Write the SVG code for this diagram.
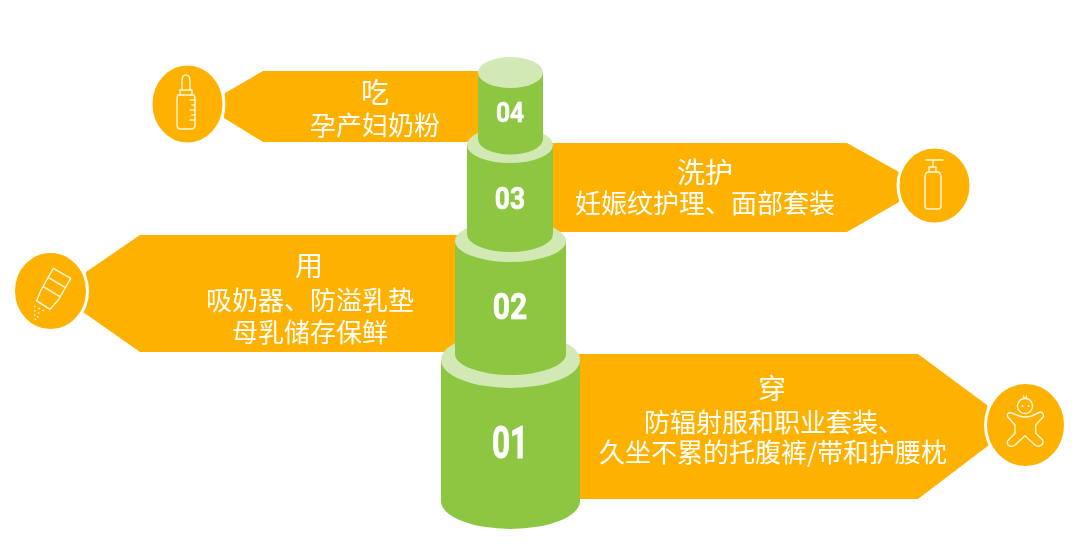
<svg xmlns="http://www.w3.org/2000/svg" width="1080" height="544" viewBox="0 0 1080 544">
<defs>
<style>
.banner{fill:#ffb100}
.dot{fill:#ffb100;stroke:#fff;stroke-width:3}
.body{fill:#8dc63f}
.lid{fill:#d2e9b6}
.icon{fill:none;stroke:#fff6dd;stroke-width:1.4;stroke-linejoin:round;stroke-linecap:round}
text{font-family:"Noto Sans CJK SC","Noto Sans",sans-serif;fill:#fff;text-anchor:middle}
.t{font-size:28px}
.s{font-size:26px}
.n{font-family:"Roboto","Liberation Sans",sans-serif;font-weight:700;font-size:30px;stroke:#fff;stroke-width:.6}
</style>
<filter id="soft" x="-5%" y="-5%" width="110%" height="110%"><feGaussianBlur stdDeviation="0.45"/></filter>
</defs>
<rect width="1080" height="544" fill="#fff"/>
<g filter="url(#soft)">
<g id="connectors">
<polygon class="banner" points="480,71 263,71 225,93 222,105 224,118 263,142 480,142"/>
<polygon class="banner" points="550,143 847,143 899,172 903,187 899,202 847,232 550,232"/>
<polygon class="banner" points="460,235 140,235 86,272 82,292 83,312 140,352 460,352"/>
<polygon class="banner" points="575,354 918,354 987,405 992,425 989,445 918,499 575,499"/>
</g>
<g id="cylinder-01">
<path class="body" d="M441 360V501A69.5 28 0 0 0 580 501V360Z"/>
<ellipse class="lid" cx="510.500" cy="360" rx="69.500" ry="28"/>
<text class="n" transform="translate(510 458) scale(1.05 1.45)">01</text>
</g>
<g id="cylinder-02">
<path class="body" d="M455 241V354A55.5 21 0 0 0 566 354V241Z"/>
<ellipse class="lid" cx="510.500" cy="241" rx="55.500" ry="21"/>
<text class="n" transform="translate(510 319) scale(1 1.22)">02</text>
</g>
<g id="cylinder-03">
<path class="body" d="M467 145V234A43 18 0 0 0 553 234V145Z"/>
<ellipse class="lid" cx="510" cy="145" rx="43" ry="18"/>
<text class="n" transform="translate(510 209) scale(.88 1.05)">03</text>
</g>
<g id="cylinder-04">
<path class="body" d="M478 72V139A32.500 15.500 0 0 0 543 139V72Z"/>
<ellipse class="lid" cx="510.500" cy="72.500" rx="32.500" ry="15.500"/>
<text class="n" transform="translate(510 122) scale(.82 .94)">04</text>
</g>
<g id="node-eat">
<ellipse class="dot" cx="187.500" cy="104" rx="36.500" ry="40"/>
<path class="icon" d="M182 90V81Q182 75 186 75Q190 75 190 81V90M180 90H192V95H180ZM178 95Q177 96 177 100V125Q177 129 181 129H191Q195 129 195 125V100Q195 96 194 95ZM190 100H195M192 105H195M190 110H195M192 115H195M190 120H195"/>
<text class="t" x="375" y="103">吃</text>
<text class="s" x="375" y="135">孕产妇奶粉</text>
</g>
<g id="node-wash">
<ellipse class="dot" cx="934.500" cy="185.500" rx="36.500" ry="38.500"/>
<path class="icon" d="M926 160H943M933 160V167M929 167H936V172H929ZM925 177Q925 172 929 172H937Q941 172 941 177V206Q941 209 938 209H928Q925 209 925 206Z"/>
<text class="t" x="705" y="183">洗护</text>
<text class="s" x="705" y="213">妊娠纹护理、面部套装</text>
</g>
<g id="node-use">
<ellipse class="dot" cx="50.500" cy="291" rx="37" ry="39.500"/>
<path class="icon" d="M53.300 268.300L70.700 278.300L58.300 300L50 309.300L36.500 301L41 290ZM48.300 277.300L65 287.300M43.300 286.700L60 296.700M36.700 300.700L50 309.300M34.500 306.500H35M39 308.500H39.500M43 310.500H43.500M34.500 311H35M38.500 313H39M34.500 315H35M37.500 317H38M35 319.500H35.500"/>
<text class="t" x="309" y="276">用</text>
<text class="s" x="310" y="310">吸奶器、防溢乳垫</text>
<text class="s" x="310" y="342">母乳储存保鲜</text>
</g>
<g id="node-wear">
<ellipse class="dot" cx="1025.500" cy="425" rx="40" ry="42.500"/>
<path class="icon" d="M1025 398.500a7.500 7.500 0 1 0 .1 0M1024 398L1023.500 396M1026 398L1026.500 396M1019.300 416L1010.700 412.700Q1006.500 412.500 1007.700 416.700L1015 425V433.300L1007.700 440.700Q1006.500 445.500 1010 446Q1012.500 447 1015 445L1025 435.700L1035 445Q1038 447 1040.700 445.700Q1044 444 1042.700 440L1035.700 433.300V425L1043.300 416.700Q1044 412.500 1040 412L1031.700 416Q1025 418 1019.300 416Z"/>
<circle cx="1022.500" cy="406" r="1" fill="#fff"/><circle cx="1028.500" cy="406" r="1" fill="#fff"/>
<text class="t" x="772" y="399">穿</text>
<text class="s" x="774" y="432">防辐射服和职业套装、</text>
<text class="s" x="773" y="462">久坐不累的托腹裤/带和护腰枕</text>
</g>
</g>
</svg>
